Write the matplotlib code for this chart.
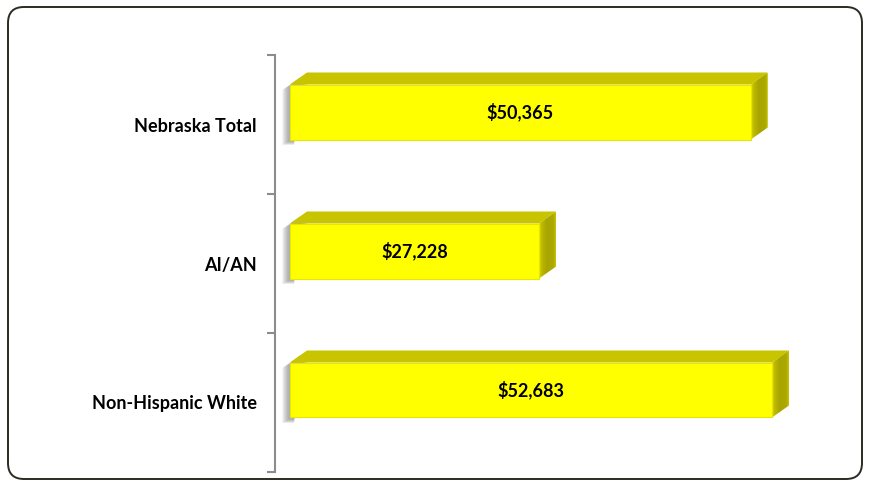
import numpy as np
import matplotlib.pyplot as plt
from matplotlib.patches import Polygon, FancyBboxPatch

# data
categories = ["Nebraska Total", "AI/AN", "Non-Hispanic White"]
income = [50365, 27228, 52683]
value_labels = ["$50,365", "$27,228", "$52,683"]

FONT = ["Lato", "DejaVu Sans"]
FRONT = "#FFFF00"
TOP = "#C8C400"

# side face colour ramp, front edge -> back edge
side_pos = [0.0, 0.15, 0.45, 0.85, 1.0]
side_rgb = np.array([[222, 218, 0], [190, 186, 0], [168, 165, 0],
                     [172, 169, 0], [200, 196, 0]]) / 255
t = np.linspace(0, 1, 64)
side_grad = np.stack([np.interp(t, side_pos, side_rgb[:, j]) for j in range(3)], axis=-1)[None, :, :]

fig = plt.figure(figsize=(8.7, 4.87), dpi=100)
W, H = 870, 487

# rounded frame round the whole chart
bg = fig.add_axes([0, 0, 1, 1])
bg.set_xlim(0, W)
bg.set_ylim(H, 0)
bg.axis("off")
bg.add_patch(FancyBboxPatch((8, 7), W - 16, H - 15,
                            boxstyle="round,pad=0,rounding_size=16",
                            fc="white", ec="#2b2b22", lw=1.4))

# plot area in pixels: left 275, right 830, top 55, bottom 472
ax = fig.add_axes([275 / W, (H - 472) / H, 555 / W, 417 / H])
ax.patch.set_alpha(0)
x_per_px = 109.3
ax.set_xlim(-15 * x_per_px, 540 * x_per_px)
ax.set_ylim(len(categories) - 0.5, -0.5)
y_per_px = 1 / 139.0

bar_h = 55 * y_per_px
shift = -12.5 * y_per_px
dx = 17 * x_per_px
dy = 12 * y_per_px

for i, v in enumerate(income):
    yc = i + shift
    y0, y1 = yc - bar_h / 2, yc + bar_h / 2   # y0 = top edge (inverted axis)

    # soft shadow to the left
    for k in range(8):
        ox = (1.5 + k * 0.9) * x_per_px
        oy = (2 + k * 0.5) * y_per_px
        shp = [(-ox, y1 + oy), (-ox, y0 + oy), (dx - ox, y0 - dy + oy),
               (dx - ox + 4 * x_per_px, y0 - dy + oy), (4 * x_per_px, y1 + oy)]
        ax.add_patch(Polygon(shp, closed=True, fc="#707070", ec="none",
                             alpha=0.09, zorder=1))

    # top face
    ax.add_patch(Polygon([(0, y0), (dx, y0 - dy), (v + dx, y0 - dy), (v, y0)],
                         closed=True, fc=TOP, ec="none", zorder=3))
    # side face with gradient
    side = Polygon([(v, y0), (v + dx, y0 - dy), (v + dx, y1 - dy), (v, y1)],
                   closed=True, fc="none", ec="none", zorder=3)
    ax.add_patch(side)
    im = ax.imshow(side_grad, extent=(v, v + dx, y1, y0 - dy), aspect="auto",
                   interpolation="bilinear", zorder=3)
    im.set_clip_path(side)
    # front face
    ax.add_patch(Polygon([(0, y0), (v, y0), (v, y1), (0, y1)],
                         closed=True, fc=FRONT, ec="#E6E600", lw=0.8, zorder=4))
    ax.text(v / 2, yc, value_labels[i], ha="center", va="center",
            fontsize=13, fontweight="bold", family=FONT, zorder=5)

ax.set_xlim(-15 * x_per_px, 540 * x_per_px)
ax.set_ylim(len(categories) - 0.5, -0.5)

# axis: vertical line with ticks between categories
for s in ["top", "right", "bottom"]:
    ax.spines[s].set_visible(False)
ax.spines["left"].set_color("#8c8c8c")
ax.spines["left"].set_linewidth(1.5)
ax.set_xticks([])
ax.set_yticks(np.arange(len(categories) + 1) - 0.5)
ax.set_yticklabels([])
ax.tick_params(axis="y", which="major", length=6, width=1.5, color="#8c8c8c")
ax.set_yticks(np.arange(len(categories)), minor=True)
ax.set_yticklabels(categories, minor=True, fontsize=13, fontweight="bold",
                   family=FONT)
ax.tick_params(axis="y", which="minor", length=0, pad=13)

fig.savefig("out.png", dpi=100)
